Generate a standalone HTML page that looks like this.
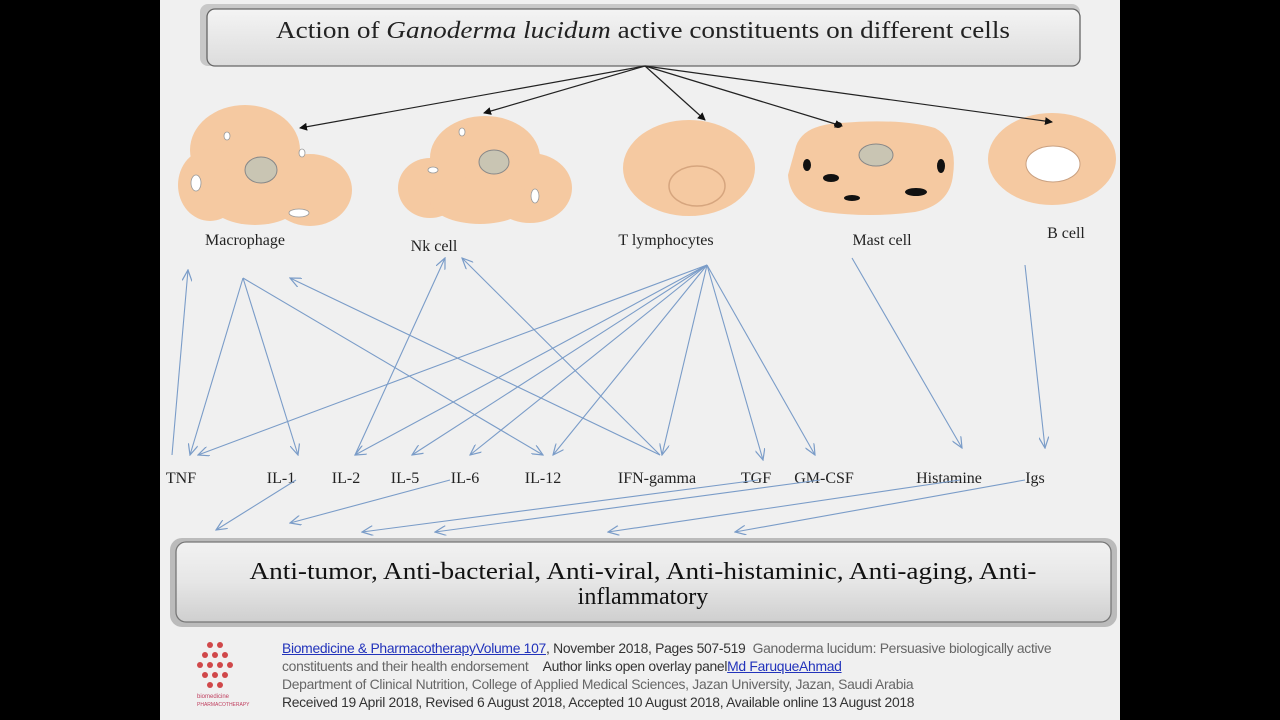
<!DOCTYPE html>
<html><head><style>
body{margin:0;width:1280px;height:720px;background:#000;overflow:hidden;font-family:"Liberation Serif",serif}
.cap{position:absolute;left:282px;top:639px;font-family:"Liberation Sans",sans-serif;font-size:13.9px;line-height:18px;color:#333;letter-spacing:-0.3px;white-space:nowrap}
.cap a{color:#2233bb;text-decoration:underline}
.g{color:#666}
</style></head><body>
<svg width="1280" height="720" style="position:absolute;left:0;top:0">
<defs>
<marker id="bk" markerWidth="8" markerHeight="8" refX="7" refY="4" orient="auto" markerUnits="userSpaceOnUse"><path d="M0,0L8,4L0,8z" fill="#111"/></marker>
<marker id="bl" markerWidth="12" markerHeight="10" refX="11" refY="5" orient="auto" markerUnits="userSpaceOnUse"><path d="M0,0L11,5L0,10" fill="none" stroke="#7a9cc8" stroke-width="1.2"/></marker>
<linearGradient id="tb" x1="0" y1="0" x2="0" y2="1"><stop offset="0" stop-color="#f4f4f4"/><stop offset="1" stop-color="#dcdcdc"/></linearGradient>
<linearGradient id="bb" x1="0" y1="0" x2="0" y2="1"><stop offset="0" stop-color="#f2f2f2"/><stop offset="0.5" stop-color="#e6e6e6"/><stop offset="1" stop-color="#cfcfcf"/></linearGradient>
</defs>
<rect x="160" y="0" width="960" height="720" fill="#f0f0f0"/>
<rect x="200" y="4" width="880" height="62" rx="8" fill="#c8c8c8"/>
<rect x="207" y="9" width="873" height="57" rx="8" fill="url(#tb)" stroke="#666" stroke-width="1.3"/>
<text x="643" y="38" text-anchor="middle" font-size="24" textLength="734" lengthAdjust="spacingAndGlyphs" fill="#222">Action of <tspan font-style="italic">Ganoderma lucidum</tspan> active constituents on different cells</text>
<g fill="#f5c9a1">
<ellipse cx="245" cy="150" rx="55" ry="45"/><ellipse cx="210" cy="185" rx="32" ry="36"/><ellipse cx="310" cy="190" rx="42" ry="36"/><ellipse cx="255" cy="195" rx="50" ry="30"/>
<ellipse cx="485" cy="158" rx="55" ry="42"/><ellipse cx="430" cy="188" rx="32" ry="30"/><ellipse cx="530" cy="188" rx="42" ry="35"/><ellipse cx="480" cy="200" rx="50" ry="24"/>
<ellipse cx="689" cy="168" rx="66" ry="48"/>
<path d="M795,150 Q800,125 840,123 Q900,118 935,128 Q958,140 953,175 Q950,205 915,212 Q870,218 825,212 Q790,205 788,175z"/>
<ellipse cx="1052" cy="159" rx="64" ry="46"/>
</g>
<g fill="#c9c5b3" stroke="#888" stroke-width="1"><ellipse cx="261" cy="170" rx="16" ry="13"/><ellipse cx="494" cy="162" rx="15" ry="12"/><ellipse cx="876" cy="155" rx="17" ry="11"/></g>
<ellipse cx="697" cy="186" rx="28" ry="20" fill="#f5c9a1" stroke="#d6a57e" stroke-width="1.5"/>
<ellipse cx="1053" cy="164" rx="27" ry="18" fill="#fff" stroke="#c9a080"/>
<g fill="#fff" stroke="#999" stroke-width=".8"><ellipse cx="227" cy="136" rx="3" ry="4"/><ellipse cx="302" cy="153" rx="3" ry="4"/><ellipse cx="196" cy="183" rx="5" ry="8"/><ellipse cx="299" cy="213" rx="10" ry="4"/><ellipse cx="462" cy="132" rx="3" ry="4"/><ellipse cx="433" cy="170" rx="5" ry="3"/><ellipse cx="535" cy="196" rx="4" ry="7"/></g>
<g fill="#111"><ellipse cx="838" cy="125" rx="4" ry="3"/><ellipse cx="807" cy="165" rx="4" ry="6"/><ellipse cx="831" cy="178" rx="8" ry="4"/><ellipse cx="852" cy="198" rx="8" ry="3"/><ellipse cx="916" cy="192" rx="11" ry="4"/><ellipse cx="941" cy="166" rx="4" ry="7"/></g>
<g stroke="#222" stroke-width="1.2" marker-end="url(#bk)">
<line x1="645" y1="66" x2="300" y2="128"/><line x1="645" y1="66" x2="484" y2="113"/><line x1="645" y1="66" x2="705" y2="120"/><line x1="645" y1="66" x2="842" y2="126"/><line x1="645" y1="66" x2="1052" y2="122"/>
</g>
<g font-size="16" fill="#222" text-anchor="middle">
<text x="245" y="245">Macrophage</text><text x="434" y="251">Nk cell</text><text x="666" y="245">T lymphocytes</text><text x="882" y="245">Mast cell</text><text x="1066" y="238">B cell</text>
<text x="181" y="483">TNF</text><text x="281" y="483">IL-1</text><text x="346" y="483">IL-2</text><text x="405" y="483">IL-5</text><text x="465" y="483">IL-6</text><text x="543" y="483">IL-12</text><text x="657" y="483">IFN-gamma</text><text x="756" y="483">TGF</text><text x="824" y="483">GM-CSF</text><text x="949" y="483">Histamine</text><text x="1035" y="483">Igs</text>
</g>
<g stroke="#7a9cc8" stroke-width="1.1" fill="none" marker-end="url(#bl)">
<line x1="172" y1="455" x2="188" y2="270"/>
<line x1="243" y1="278" x2="190" y2="455"/><line x1="243" y1="278" x2="298" y2="455"/><line x1="243" y1="278" x2="543" y2="455"/>
<line x1="660" y1="455" x2="290" y2="278"/>
<line x1="355" y1="455" x2="445" y2="258"/><line x1="660" y1="455" x2="462" y2="258"/>
<line x1="707" y1="265" x2="198" y2="455"/><line x1="707" y1="265" x2="355" y2="455"/><line x1="707" y1="265" x2="412" y2="455"/><line x1="707" y1="265" x2="470" y2="455"/><line x1="707" y1="265" x2="553" y2="455"/><line x1="707" y1="265" x2="662" y2="455"/><line x1="707" y1="265" x2="763" y2="460"/><line x1="707" y1="265" x2="815" y2="455"/>
<line x1="852" y1="258" x2="962" y2="448"/><line x1="1025" y1="265" x2="1045" y2="448"/>
<line x1="296" y1="480" x2="216" y2="530"/><line x1="450" y1="480" x2="290" y2="523"/><line x1="758" y1="480" x2="362" y2="532"/><line x1="820" y1="480" x2="435" y2="532"/><line x1="960" y1="480" x2="608" y2="532"/><line x1="1025" y1="480" x2="735" y2="532"/>
</g>
<rect x="170" y="538" width="947" height="89" rx="12" fill="#bbb"/>
<rect x="176" y="542" width="935" height="80" rx="10" fill="url(#bb)" stroke="#777" stroke-width="1.3"/>
<text x="643" y="579" text-anchor="middle" font-size="24" textLength="787" lengthAdjust="spacingAndGlyphs" fill="#111">Anti-tumor, Anti-bacterial, Anti-viral, Anti-histaminic, Anti-aging, Anti-</text>
<text x="643" y="604" text-anchor="middle" font-size="24" fill="#111">inflammatory</text>
<g fill="#d0484a"><circle cx="210" cy="645" r="3"/><circle cx="220" cy="645" r="3"/><circle cx="205" cy="655" r="3"/><circle cx="215" cy="655" r="3"/><circle cx="225" cy="655" r="3"/><circle cx="200" cy="665" r="3"/><circle cx="210" cy="665" r="3"/><circle cx="220" cy="665" r="3"/><circle cx="230" cy="665" r="3"/><circle cx="205" cy="675" r="3"/><circle cx="215" cy="675" r="3"/><circle cx="225" cy="675" r="3"/><circle cx="210" cy="685" r="3"/><circle cx="220" cy="685" r="3"/></g>
<text x="197" y="698" font-size="6" fill="#c04060" font-family="Liberation Sans">biomedicine</text>
<text x="197" y="706" font-size="5" fill="#c04060" font-family="Liberation Sans">PHARMACOTHERAPY</text>
</svg>
<div class="cap"><a>Biomedicine &amp; PharmacotherapyVolume 107</a>, November 2018, Pages 507-519 &nbsp;<span class="g">Ganoderma lucidum: Persuasive biologically active</span><br><span class="g">constituents and their health endorsement</span> &nbsp;&nbsp;&nbsp;Author links open overlay panel<a>Md FaruqueAhmad</a><br><span class="g">Department of Clinical Nutrition, College of Applied Medical Sciences, Jazan University, Jazan, Saudi Arabia</span><br>Received 19 April 2018, Revised 6 August 2018, Accepted 10 August 2018, Available online 13 August 2018</div>
</body></html>
